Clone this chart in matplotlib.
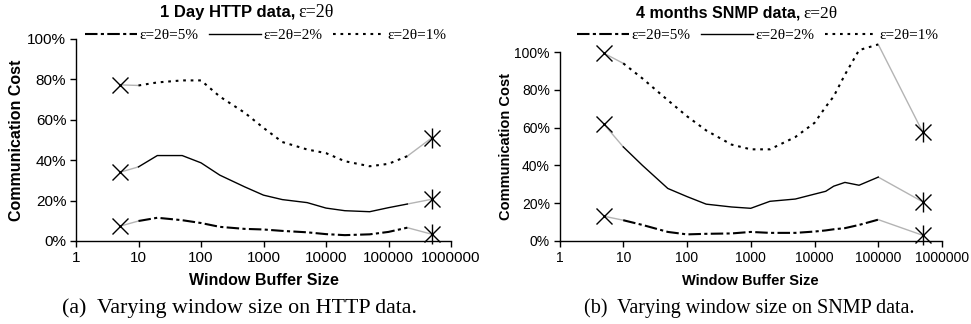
import matplotlib
matplotlib.use("Agg")
import matplotlib.pyplot as plt
from matplotlib.ticker import FixedLocator, FuncFormatter, NullLocator

SANS = "Liberation Sans"
SERIF = "Liberation Serif"

# --- datos (porcentajes) ---
http_x = [10, 20, 50, 100, 200, 500, 1000, 2000, 5000, 10000, 20000, 50000, 100000, 200000]
http_5 = [9.9, 11.5, 10.3, 8.9, 7.0, 6.0, 5.7, 5.0, 4.3, 3.4, 2.9, 3.3, 4.5, 6.6]
http_2 = [36.7, 42.3, 42.3, 38.7, 32.6, 26.8, 22.7, 20.5, 19.0, 16.3, 15.0, 14.5, 16.5, 18.3]
http_1 = [77.0, 78.5, 79.5, 79.5, 71.5, 63.5, 56.0, 49.0, 45.3, 43.5, 39.5, 37.0, 38.2, 42.0]

snmp_x = [10, 20, 50, 100, 200, 500, 1000, 2000, 5000, 10000, 15000, 20000, 30000, 50000, 100000]
snmp_5 = [11.0, 8.5, 4.8, 3.5, 3.8, 4.0, 4.8, 4.3, 4.3, 5.0, 5.6, 6.2, 6.8, 8.5, 11.3]
snmp_2 = [49.8, 40.0, 27.8, 23.5, 19.5, 18.0, 17.3, 21.0, 22.2, 24.8, 26.3, 29.0, 31.0, 29.5, 33.8]
snmp_1 = [94.0, 86.0, 74.5, 66.0, 58.5, 51.0, 48.5, 48.5, 55.0, 62.5, 71.0, 76.5, 88.0, 101.0, 104.0]

# puntos aislados (X) a la izquierda y a la derecha
mark_x = [5, 500000]
http_mark = {"5": [7.3, 3.3], "2": [34.0, 20.7], "1": [77.3, 51.2]}
snmp_mark = {"5": [13.1, 3.0], "2": [61.7, 20.7], "1": [99.3, 57.5]}

labels = {"5": "ε=2θ=5%", "2": "ε=2θ=2%", "1": "ε=2θ=1%"}
styles = {
    "5": dict(lw=1.5, dashes=(6, 1.6, 1.5, 1.6)),
    "2": dict(lw=1.0, linestyle="-"),
    "1": dict(lw=1.5, dashes=(1.3, 2.3)),
}
x_ticks = [1, 10, 100, 1000, 10000, 100000, 1000000]
y_ticks = [0, 20, 40, 60, 80, 100]

W, H = 971, 324
fig = plt.figure(figsize=(W / 100, H / 100), dpi=100)


def px_axes(x0, x1, y_top, y_bot):
    return fig.add_axes([x0 / W, 1 - y_bot / H, (x1 - x0) / W, (y_bot - y_top) / H])


def draw_panel(ax, xs, series, marks, tick_fs, lab_fs, xpad, ypad):
    for key in ["5", "2", "1"]:
        ys = series[key]
        m = marks[key]
        # lineas grises hacia los puntos aislados
        ax.plot([mark_x[0], xs[0]], [m[0], ys[0]], color="#b4b4b4", lw=1.0, clip_on=False, zorder=2)
        ax.plot([xs[-1], mark_x[1]], [ys[-1], m[1]], color="#b4b4b4", lw=1.0, clip_on=False, zorder=2)
        ax.plot(xs, ys, color="black", clip_on=False, zorder=3, label=labels[key], **styles[key])
        ax.plot([mark_x[0]], [m[0]], marker="x", ms=12, mew=1.0, color="black", clip_on=False, zorder=4)
        ax.plot([mark_x[1]], [m[1]], marker="x", ms=12, mew=1.0, color="black", clip_on=False, zorder=4)
        ax.plot([mark_x[1]], [m[1]], marker="|", ms=14, mew=1.0, color="black", clip_on=False, zorder=4)

    ax.set_xscale("log")
    ax.set_xlim(1, 1000000)
    ax.set_ylim(0, 100)
    ax.xaxis.set_major_locator(FixedLocator(x_ticks))
    ax.xaxis.set_minor_locator(NullLocator())
    ax.xaxis.set_major_formatter(FuncFormatter(lambda v, p: "%d" % round(v)))
    ax.yaxis.set_major_locator(FixedLocator(y_ticks))
    ax.yaxis.set_major_formatter(FuncFormatter(lambda v, p: "%d%%" % round(v)))
    for s in ["top", "right"]:
        ax.spines[s].set_visible(False)
    for s in ["left", "bottom"]:
        ax.spines[s].set_linewidth(1.0)
    ax.tick_params(axis="both", direction="out", length=4, width=1.0, labelsize=tick_fs, pad=3)
    for t in ax.get_xticklabels() + ax.get_yticklabels():
        t.set_fontfamily(SANS)
    ax.set_xlabel("Window Buffer Size", fontsize=lab_fs, fontweight="bold", family=SANS, labelpad=xpad)
    ax.set_ylabel("Communication Cost", fontsize=lab_fs, fontweight="bold", family=SANS, labelpad=ypad)
    ax.patch.set_alpha(0)


# panel (a)
ax1 = px_axes(76, 451, 39, 241)
draw_panel(ax1, http_x, {"5": http_5, "2": http_2, "1": http_1}, http_mark, 11, 11.5, 6, 2)
# panel (b)
ax2 = px_axes(559.5, 942, 52, 241)
draw_panel(ax2, snmp_x, {"5": snmp_5, "2": snmp_2, "1": snmp_1}, snmp_mark, 10, 10.5, 7, 1)

# leyendas
for ax, x0, fs in [(ax1, 85, 11), (ax2, 577, 11)]:
    ax.legend(loc="center left", bbox_to_anchor=(x0 / W, 1 - 35 / H), bbox_transform=fig.transFigure,
              ncol=3, frameon=False, handlelength=3.4, handletextpad=0.15, columnspacing=0.7,
              borderpad=0, borderaxespad=0, prop={"family": SERIF, "size": fs})

# titulos: parte sans en negrita + epsilon en serif
fig.text(295 / W, 1 - 17 / H, "1 Day HTTP data,", ha="right", va="baseline",
         fontsize=12, fontweight="bold", family=SANS)
fig.text(298 / W, 1 - 17 / H, "ε=2θ", ha="left", va="baseline", fontsize=13, family=SERIF)
fig.text(800 / W, 1 - 18 / H, "4 months SNMP data,", ha="right", va="baseline",
         fontsize=11.5, fontweight="bold", family=SANS)
fig.text(803 / W, 1 - 18 / H, "ε=2θ", ha="left", va="baseline", fontsize=12.5, family=SERIF)

# pies de figura
fig.text(239 / W, 1 - 313 / H, "(a)  Varying window size on HTTP data.", ha="center", va="baseline",
         fontsize=15.8, family=SERIF)
fig.text(749 / W, 1 - 313 / H, "(b)  Varying window size on SNMP data.", ha="center", va="baseline",
         fontsize=14.5, family=SERIF)

fig.savefig("out.png", dpi=100, facecolor="white")
